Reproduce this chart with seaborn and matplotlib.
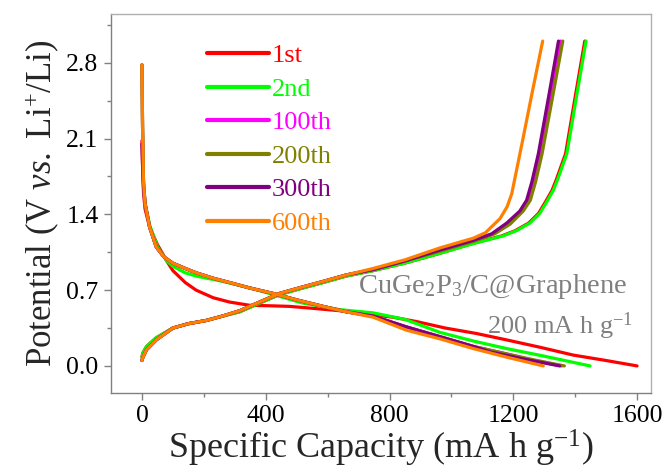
import matplotlib
matplotlib.use("Agg")
import matplotlib.pyplot as plt
from matplotlib.ticker import MultipleLocator
import seaborn as sns
import pandas as pd

# ---------------- data ----------------
labels = ["1st", "2nd", "100th", "200th", "300th", "600th"]
colors = ["#ff0000", "#00ff00", "#ff00ff", "#808000", "#800080", "#ff8000"]

# discharge (x = capacity, v = potential)
dis_x_1 = [0, 2, 5, 10, 25, 50, 80, 100, 140, 175, 230, 283, 348, 420, 477, 560, 639, 725, 810, 887, 980, 1080, 1179, 1290, 1394, 1500, 1600]
dis_v_1 = [2.08, 1.85, 1.60, 1.45, 1.28, 1.12, 0.97, 0.88, 0.77, 0.70, 0.63, 0.59, 0.56, 0.555, 0.55, 0.53, 0.51, 0.48, 0.45, 0.41, 0.35, 0.30, 0.24, 0.17, 0.10, 0.05, 0.0]
dis_x_2 = [0, 2, 5, 10, 25, 50, 80, 100, 140, 175, 262, 350, 423, 520, 639, 747, 850, 963, 1071, 1179, 1300, 1448]
dis_v_2 = [2.78, 2.20, 1.70, 1.50, 1.30, 1.10, 0.97, 0.92, 0.86, 0.83, 0.78, 0.72, 0.66, 0.58, 0.52, 0.49, 0.43, 0.31, 0.23, 0.16, 0.09, 0.0]
dis_x_100 = [0, 2, 5, 10, 25, 46, 70, 99, 140, 175, 230, 283, 348, 423, 500, 585, 660, 747, 855, 963, 1071, 1180, 1250, 1356]
dis_v_100 = [2.78, 2.20, 1.70, 1.50, 1.28, 1.10, 1.01, 0.95, 0.90, 0.86, 0.81, 0.77, 0.72, 0.67, 0.61, 0.55, 0.50, 0.46, 0.36, 0.27, 0.18, 0.11, 0.06, 0.0]
dis_x_200 = [0, 2, 5, 10, 25, 46, 70, 99, 140, 175, 230, 283, 348, 423, 500, 585, 660, 747, 855, 963, 1071, 1180, 1260, 1365]
dis_v_200 = [2.78, 2.20, 1.70, 1.50, 1.28, 1.10, 1.01, 0.95, 0.90, 0.86, 0.81, 0.77, 0.72, 0.67, 0.61, 0.55, 0.50, 0.46, 0.36, 0.27, 0.18, 0.11, 0.06, 0.0]
dis_x_300 = [0, 2, 5, 10, 25, 46, 70, 99, 140, 175, 230, 283, 348, 423, 500, 585, 660, 747, 855, 963, 1071, 1125, 1240, 1350]
dis_v_300 = [2.05, 1.85, 1.65, 1.50, 1.28, 1.10, 1.01, 0.95, 0.90, 0.86, 0.81, 0.77, 0.72, 0.67, 0.61, 0.55, 0.50, 0.46, 0.36, 0.27, 0.18, 0.13, 0.06, 0.0]
dis_x_600 = [0, 2, 5, 10, 25, 46, 70, 99, 140, 175, 230, 283, 348, 423, 500, 585, 660, 747, 855, 963, 1071, 1180, 1297]
dis_v_600 = [2.78, 2.20, 1.70, 1.50, 1.28, 1.10, 1.01, 0.95, 0.90, 0.86, 0.81, 0.77, 0.72, 0.67, 0.61, 0.55, 0.50, 0.45, 0.33, 0.25, 0.16, 0.08, 0.0]

# charge
chg_x_1 = [0, 3, 15, 46, 100, 150, 208, 260, 316, 380, 445, 520, 585, 660, 747, 850, 963, 1067, 1162, 1207, 1250, 1282, 1305, 1325, 1339, 1369, 1401, 1431]
chg_v_1 = [0.08, 0.12, 0.18, 0.26, 0.35, 0.39, 0.42, 0.46, 0.50, 0.58, 0.66, 0.72, 0.77, 0.83, 0.88, 0.95, 1.04, 1.13, 1.20, 1.25, 1.32, 1.41, 1.52, 1.62, 1.72, 1.96, 2.50, 3.00]
chg_x_2 = [0, 3, 15, 46, 100, 150, 208, 260, 316, 380, 445, 520, 585, 660, 747, 850, 963, 1071, 1166, 1211, 1254, 1286, 1309, 1329, 1343, 1373, 1405, 1435]
chg_v_2 = [0.08, 0.12, 0.18, 0.26, 0.35, 0.39, 0.42, 0.46, 0.50, 0.58, 0.66, 0.72, 0.77, 0.83, 0.88, 0.95, 1.04, 1.13, 1.20, 1.25, 1.32, 1.41, 1.52, 1.62, 1.72, 1.96, 2.50, 3.00]
chg_x_100 = [0, 3, 15, 46, 100, 150, 208, 260, 316, 380, 445, 520, 585, 660, 747, 850, 963, 1071, 1135, 1185, 1227, 1249, 1266, 1287, 1321, 1353]
chg_v_100 = [0.05, 0.08, 0.15, 0.24, 0.35, 0.39, 0.42, 0.46, 0.51, 0.59, 0.67, 0.73, 0.78, 0.84, 0.89, 0.97, 1.07, 1.16, 1.22, 1.32, 1.43, 1.53, 1.70, 1.96, 2.50, 3.00]
chg_x_200 = [0, 3, 15, 46, 100, 150, 208, 260, 316, 380, 445, 520, 585, 660, 747, 850, 963, 1071, 1140, 1190, 1232, 1255, 1272, 1293, 1328, 1360]
chg_v_200 = [0.05, 0.08, 0.15, 0.24, 0.35, 0.39, 0.42, 0.46, 0.51, 0.59, 0.67, 0.73, 0.78, 0.84, 0.89, 0.97, 1.06, 1.15, 1.22, 1.31, 1.43, 1.53, 1.70, 1.96, 2.50, 3.00]
chg_x_300 = [0, 3, 15, 46, 100, 150, 208, 260, 316, 380, 445, 520, 585, 660, 747, 850, 963, 1071, 1130, 1179, 1221, 1243, 1260, 1281, 1315, 1346]
chg_v_300 = [0.05, 0.08, 0.15, 0.24, 0.35, 0.39, 0.42, 0.46, 0.51, 0.59, 0.67, 0.73, 0.78, 0.84, 0.89, 0.97, 1.07, 1.16, 1.22, 1.32, 1.43, 1.53, 1.70, 1.96, 2.50, 3.00]
chg_x_600 = [0, 3, 15, 46, 100, 150, 208, 260, 316, 380, 445, 520, 585, 660, 747, 850, 963, 1071, 1110, 1157, 1180, 1195, 1230, 1260, 1295]
chg_v_600 = [0.05, 0.08, 0.15, 0.24, 0.35, 0.39, 0.42, 0.46, 0.51, 0.59, 0.67, 0.73, 0.78, 0.84, 0.90, 0.98, 1.09, 1.18, 1.23, 1.36, 1.47, 1.59, 2.08, 2.51, 3.00]

dis_x = [dis_x_1, dis_x_2, dis_x_100, dis_x_200, dis_x_300, dis_x_600]
dis_v = [dis_v_1, dis_v_2, dis_v_100, dis_v_200, dis_v_300, dis_v_600]
chg_x = [chg_x_1, chg_x_2, chg_x_100, chg_x_200, chg_x_300, chg_x_600]
chg_v = [chg_v_1, chg_v_2, chg_v_100, chg_v_200, chg_v_300, chg_v_600]

x_ticks = [0, 400, 800, 1200, 1600]
y_ticks = [0.0, 0.7, 1.4, 2.1, 2.8]

# ---------------- style ----------------
sns.set_theme(style="white")
plt.rcParams["font.family"] = ["Liberation Serif", "DejaVu Serif"]
plt.rcParams["mathtext.fontset"] = "custom"
plt.rcParams["mathtext.rm"] = "Liberation Serif"
plt.rcParams["mathtext.it"] = "Liberation Serif:italic"
plt.rcParams["mathtext.bf"] = "Liberation Serif:bold"

fig = plt.figure(figsize=(6.69, 4.76), dpi=100)
ax = fig.add_axes([111 / 669, 1 - 393 / 476, (651 - 111) / 669, (393 - 14) / 476])

lw = 2.3
for i in range(len(labels)):
    df_d = pd.DataFrame({"x": dis_x[i], "v": dis_v[i]})
    df_c = pd.DataFrame({"x": chg_x[i], "v": chg_v[i]})
    sns.lineplot(data=df_d, x="x", y="v", sort=False, color=colors[i], lw=lw,
                 ax=ax, label=labels[i], solid_capstyle="round")
    sns.lineplot(data=df_c, x="x", y="v", sort=False, color=colors[i], lw=lw,
                 ax=ax, solid_capstyle="round")

ax.set_xlim(-100, 1645)
ax.set_ylim(-0.25, 3.25)
ax.set_xticks(x_ticks)
ax.set_yticks(y_ticks)
ax.set_xticklabels([str(t) for t in x_ticks])
ax.set_yticklabels([f"{t:.1f}" for t in y_ticks])
ax.xaxis.set_minor_locator(MultipleLocator(200))
ax.yaxis.set_minor_locator(MultipleLocator(0.35))
ax.tick_params(which="major", direction="out", length=5, width=1, color="#808080",
               labelsize=18.5, labelcolor="black", bottom=True, left=True, pad=4)
ax.tick_params(which="minor", direction="out", length=3, width=1, color="#808080",
               bottom=True, left=True)
for side in ["left", "bottom"]:
    ax.spines[side].set_color("#808080")
    ax.spines[side].set_linewidth(1.0)
for side in ["top", "right"]:
    ax.spines[side].set_color("#b0b0b0")
    ax.spines[side].set_linewidth(1.0)

ax.set_xlabel("Specific Capacity (mA h g$^{\\mathregular{-1}}$)", fontsize=26, labelpad=0)
ax.set_ylabel("Potential (V $\\mathit{vs.}$ Li$^{+}$/Li)", fontsize=25, labelpad=4)

leg = ax.legend(loc="upper left", bbox_to_anchor=(0.149, 0.963), frameon=False,
                fontsize=19, handlelength=2.35, handletextpad=0.1, labelspacing=0.38,
                borderaxespad=0.2)
for line, text, c in zip(leg.get_lines(), leg.get_texts(), colors):
    text.set_color(c)
    line.set_linewidth(3)

ax.text(0.955, 0.28, "CuGe$_{2}$P$_{3}$/C@Graphene", transform=ax.transAxes,
        ha="right", va="center", fontsize=20.5, color="#7f7f7f")
ax.text(0.967, 0.175, "200 mA h g$^{\\mathregular{-1}}$", transform=ax.transAxes,
        ha="right", va="center", fontsize=19, color="#7f7f7f")

fig.savefig("out.png", dpi=100)
